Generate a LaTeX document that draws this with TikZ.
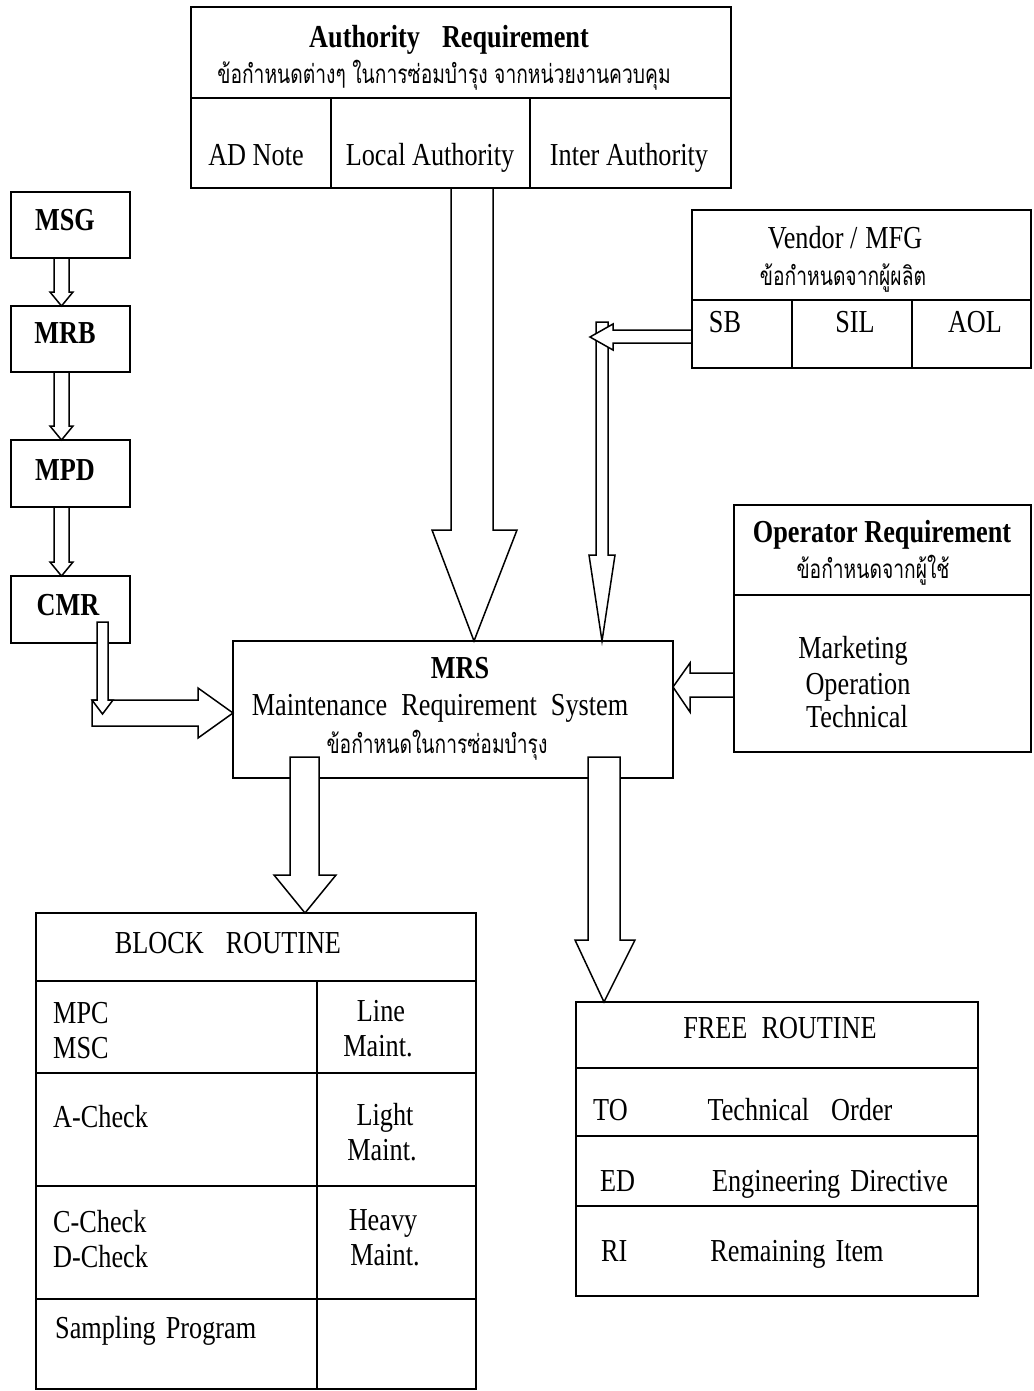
\documentclass[tikz,border=0pt]{standalone}
\usepackage{fontspec}
\setmainfont{Liberation Serif}[FakeStretch=0.82]
\newfontfamily\thaifont[Script=Thai,FakeStretch=0.74]{Loma}
\begin{document}
\begin{tikzpicture}[x=1pt,y=-1pt,line join=miter,
  box/.style={draw,line width=1.6pt,inner sep=0pt,outer sep=0pt,anchor=north west},
  ln/.style={line width=1.6pt},
  fat/.style={draw,line width=1.5pt,fill=white,line join=miter},
  txt/.style={inner sep=0pt,text height=21pt,text depth=0pt,font=\fontsize{32}{36}\selectfont},
  btxt/.style={inner sep=0pt,text height=21pt,text depth=0pt,font=\fontsize{32}{36}\selectfont\bfseries},
  ltxt/.style={txt,anchor=west},
  thtxt/.style={inner sep=0pt,font=\fontsize{26}{30}\selectfont\thaifont}]
\useasboundingbox (0,0) rectangle (1033,1391);
% ---------- arrows that start at a box edge (drawn first) ----------
\draw[fat] (451,188) -- (451,530) -- (432,530) -- (474,641) -- (517,530) -- (493,530) -- (493,188);
\draw[fat] (54,258) -- (54,292) -- (50,292) -- (61.5,306) -- (73,292) -- (69,292) -- (69,258);
\draw[fat] (54,372) -- (54,426) -- (50,426) -- (61.5,440) -- (73,426) -- (69,426) -- (69,372);
\draw[fat] (54,507) -- (54,562) -- (50,562) -- (61.5,576) -- (73,562) -- (69,562) -- (69,507);
\draw[fat] (596,322) -- (596,555) -- (589,555) -- (602,641) -- (615,555) -- (608,555) -- (608,322) -- cycle;
\draw[fat] (692,330) -- (613,330) -- (613,324) -- (590,337) -- (613,350) -- (613,343) -- (692,343);
\draw[fat] (734,673) -- (690,673) -- (690,663) -- (673,687) -- (690,712) -- (690,697) -- (734,697);
% ---------- boxes ----------
\node[box,minimum width=540pt,minimum height=181pt] (auth) at (191,7) {};
\draw[ln] (191,98) -- (731,98) (331,98) -- (331,188) (530,98) -- (530,188);
\node[box,minimum width=119pt,minimum height=66pt] (msg) at (11,192) {};
\node[box,minimum width=119pt,minimum height=66pt] (mrb) at (11,306) {};
\node[box,minimum width=119pt,minimum height=67pt] (mpd) at (11,440) {};
\node[box,minimum width=119pt,minimum height=67pt] (cmr) at (11,576) {};
\node[box,minimum width=339pt,minimum height=158pt] (vend) at (692,210) {};
\draw[ln] (692,300) -- (1031,300) (792,300) -- (792,368) (912,300) -- (912,368);
\node[box,minimum width=297pt,minimum height=247pt] (oper) at (734,505) {};
\draw[ln] (734,595) -- (1031,595);
\node[box,minimum width=440pt,minimum height=137pt] (mrs) at (233,641) {};
\node[box,minimum width=440pt,minimum height=476pt] (block) at (36,913) {};
\draw[ln] (36,981) -- (476,981) (36,1073) -- (476,1073) (36,1186) -- (476,1186) (36,1299) -- (476,1299) (317,981) -- (317,1389);
\node[box,minimum width=402pt,minimum height=294pt] (free) at (576,1002) {};
\draw[ln] (576,1068) -- (978,1068) (576,1136) -- (978,1136) (576,1206) -- (978,1206);
% ---------- arrows that start inside a box ----------
\draw[fat] (92,700) -- (198,700) -- (198,688) -- (233,713) -- (198,738) -- (198,726) -- (92,726) -- cycle;
\draw[fat] (97,622) -- (97,700) -- (92,700) -- (102.5,714) -- (113,700) -- (108,700) -- (108,622) -- cycle;
\draw[fat] (290,757) -- (290,875) -- (274,875) -- (305,913) -- (336,875) -- (319,875) -- (319,757) -- cycle;
\draw[fat] (588,757) -- (588,940) -- (575,940) -- (604,1002) -- (635,940) -- (620,940) -- (620,757) -- cycle;
% ---------- texts ----------
\node[btxt] (t1) at (449,37) {Authority\hspace{22pt}Requirement};
\node[thtxt] (t2) at (444,75) {ข้อกำหนดต่างๆ ในการซ่อมบำรุง จากหน่วยงานควบคุม};
\node[txt] (t3) at (256,155) {AD Note};
\node[txt] (t4) at (430,155) {Local Authority};
\node[txt] (t5) at (629,155) {Inter Authority};
\node[btxt] (t6) at (65,220) {MSG};
\node[btxt] (t7) at (65,333) {MRB};
\node[btxt] (t8) at (65,470) {MPD};
\node[btxt] (t9) at (68,605) {CMR};
\node[txt] (t10) at (845,238) {Vendor /\hspace{8pt}MFG};
\node[thtxt] (t11) at (843,278) {ข้อกำหนดจากผู้ผลิต};
\node[txt] (t12) at (725,322) {SB};
\node[txt] (t13) at (855,322) {SIL};
\node[txt] (t14) at (975,322) {AOL};
\node[btxt] (t15) at (882,532) {Operator Requirement};
\node[thtxt] (t16) at (873,570) {ข้อกำหนดจากผู้ใช้};
\node[txt] (t17) at (853,648) {Marketing};
\node[txt] (t18) at (858,684) {Operation};
\node[txt] (t19) at (857,717) {Technical};
\node[btxt] (t20) at (460,668) {MRS};
\node[txt] (t21) at (440,705) {Maintenance\hspace{14pt}Requirement\hspace{14pt}System};
\node[thtxt] (t22) at (437,745) {ข้อกำหนดในการซ่อมบำรุง};
\node[txt] (t23) at (228,943) {BLOCK\hspace{22pt}ROUTINE};
\node[ltxt] (t24) at (53,1013) {MPC};
\node[ltxt] (t25) at (53,1048) {MSC};
\node[txt] (t26) at (381,1011) {Line};
\node[txt] (t27) at (378,1046) {Maint.};
\node[ltxt] (t28) at (53,1117) {A-Check};
\node[txt] (t29) at (385,1115) {Light};
\node[txt] (t30) at (382,1150) {Maint.};
\node[ltxt] (t31) at (53,1222) {C-Check};
\node[ltxt] (t32) at (53,1257) {D-Check};
\node[txt] (t33) at (383,1220) {Heavy};
\node[txt] (t34) at (385,1255) {Maint.};
\node[ltxt] (t35) at (55,1328) {Sampling\hspace{10pt}Program};
\node[txt] (t36) at (780,1028) {FREE\hspace{14pt}ROUTINE};
\node[ltxt] (t37) at (593,1110) {TO};
\node[txt] (t38) at (800,1110) {Technical\hspace{22pt}Order};
\node[ltxt] (t39) at (600,1181) {ED};
\node[txt] (t40) at (830,1181) {Engineering\hspace{10pt}Directive};
\node[ltxt] (t41) at (601,1251) {RI};
\node[txt] (t42) at (797,1251) {Remaining\hspace{10pt}Item};
\end{tikzpicture}
\end{document}
